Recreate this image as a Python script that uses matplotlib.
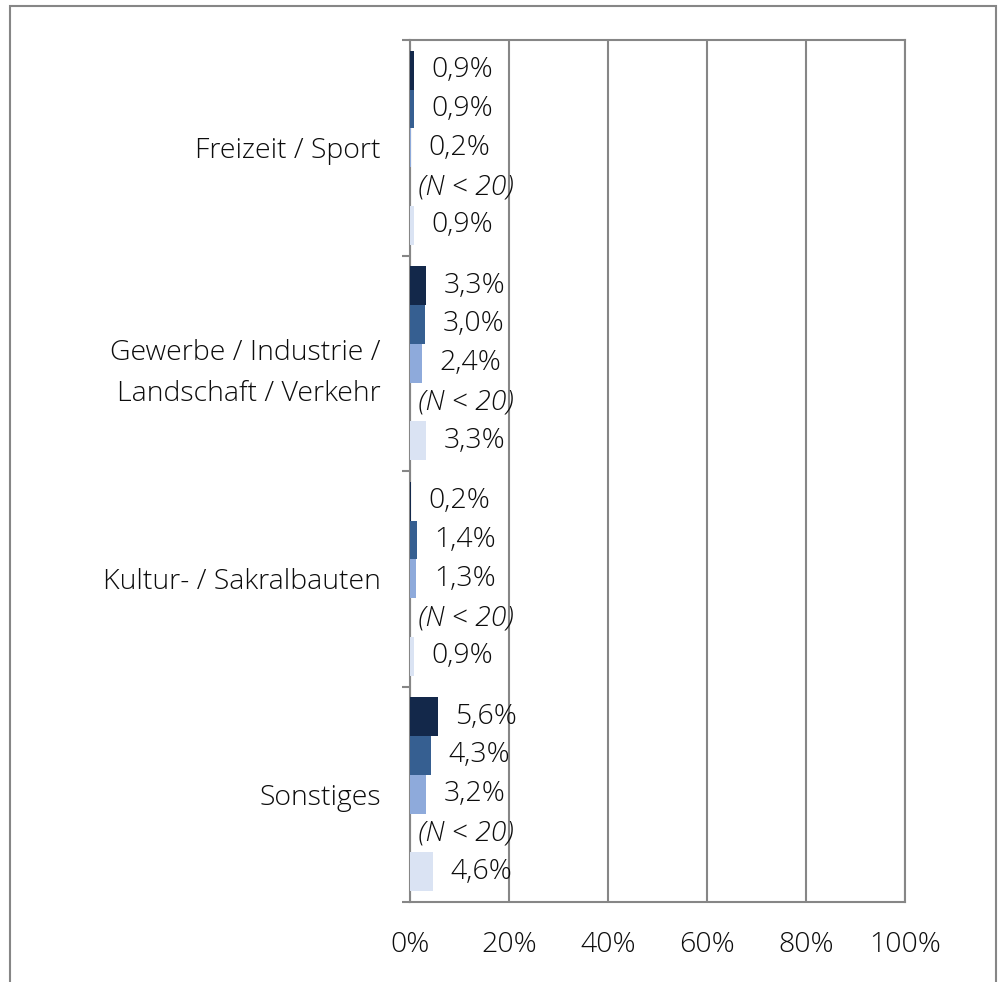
import numpy as np
import matplotlib.pyplot as plt
from matplotlib.patches import Rectangle

# Data
categories = ["Freizeit / Sport", "Gewerbe / Industrie /\nLandschaft / Verkehr",
              "Kultur- / Sakralbauten", "Sonstiges"]
series_1 = [0.9, 3.3, 0.2, 5.6]
series_2 = [0.9, 3.0, 1.4, 4.3]
series_3 = [0.2, 2.4, 1.3, 3.2]
series_4 = [np.nan, np.nan, np.nan, np.nan]   # N < 20, no bar
series_5 = [0.9, 3.3, 0.9, 4.6]
all_series = [series_1, series_2, series_3, series_4, series_5]
colors = ["#13284a", "#365f91", "#8eaadb", "#ffffff", "#dae3f3"]
xticks = [0, 20, 40, 60, 80, 100]

plt.rcParams['font.family'] = ['Open Sans', 'DejaVu Sans']
grid_col = "#868686"
txt_col = "#0d0d0d"
fs = 20.5

fig = plt.figure(figsize=(10.02, 9.82), dpi=100)
# outer frame
fig.patches.append(Rectangle((10/1002, -0.1), 986/1002, 1.1 - 6/982,
                             transform=fig.transFigure, fill=False,
                             edgecolor=grid_col, linewidth=1.5))

ax = fig.add_axes([410/1002, 1 - 902/982, 495/1002, 862/982])

h = 0.18
y = np.arange(len(categories))
for j, vals in enumerate(all_series):
    pos = y + (j - 2) * h
    v = np.nan_to_num(np.array(vals, dtype=float))
    ax.barh(pos, v, height=h, color=colors[j], edgecolor='none', zorder=3)
    for p, val in zip(pos, vals):
        if np.isnan(val):
            ax.annotate("(N < 20)", (0, p), xytext=(6, 0), textcoords='offset points',
                        va='center', ha='left', fontsize=fs, style='italic',
                        color=txt_col, fontweight='light', zorder=4)
        else:
            ax.annotate(f"{val:.1f}%".replace('.', ','), (val, p), xytext=(12.5, 0),
                        textcoords='offset points', va='center', ha='left',
                        fontsize=fs, color=txt_col, fontweight='light', zorder=4)

ax.set_xlim(0, 100)
ax.set_ylim(len(categories) - 0.5, -0.5)
ax.set_xticks(xticks)
ax.set_xticklabels([f"{t}%" for t in xticks])
ax.tick_params(axis='x', length=0, pad=21, labelsize=fs, colors=txt_col)
for lab in ax.get_xticklabels():
    lab.set_fontweight('light')
ax.xaxis.grid(True, color=grid_col, linewidth=1.5, zorder=1)

ax.set_yticks(np.arange(len(categories) + 1) - 0.5)
ax.set_yticklabels([])
ax.tick_params(axis='y', which='major', length=6, width=1.5, color=grid_col)
ax.set_yticks(y, minor=True)
ax.set_yticklabels(categories, minor=True, fontsize=fs, color=txt_col,
                   fontweight='light', linespacing=1.65)
ax.tick_params(axis='y', which='minor', length=0, pad=21)

for s in ax.spines.values():
    s.set_color(grid_col)
    s.set_linewidth(1.5)

fig.savefig("out.png", dpi=100)
